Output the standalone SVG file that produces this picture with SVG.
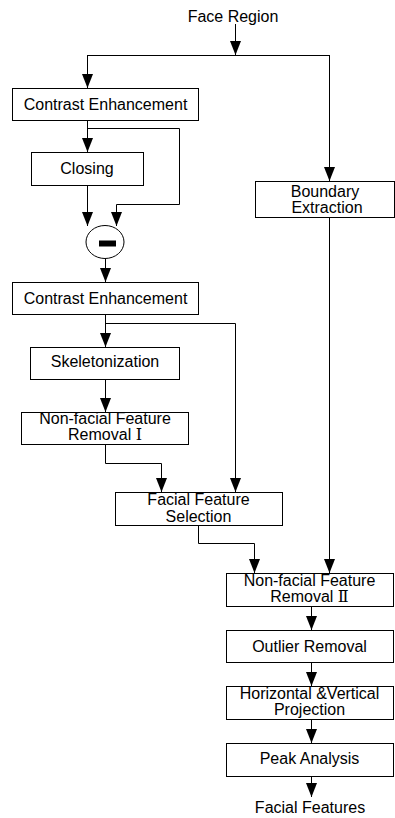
<svg xmlns="http://www.w3.org/2000/svg" width="395" height="818" viewBox="0 0 395 818">
<style>
.box{fill:#fff;stroke:#000;stroke-width:1}
.t{font-family:"Liberation Sans",Arial,sans-serif;font-size:16px;fill:#000;text-anchor:middle}
.r{font-family:"Liberation Serif","DejaVu Serif",serif}
.c{fill:none;stroke:#000;stroke-width:1}
</style>
<defs>
<marker id="ah" viewBox="0 -6 14 12" refX="14" refY="0" markerWidth="14" markerHeight="12" markerUnits="userSpaceOnUse" orient="auto">
<path d="M0,-5.5 L14,0 L0,5.5 z" fill="#000"/>
</marker>
</defs>
<rect width="395" height="818" fill="#fff"/>
<g id="connectors">
<path class="c" d="M235.5,24 V55" marker-end="url(#ah)"/>
<path class="c" d="M87.5,55.5 H329.5"/>
<path class="c" d="M87.5,55 V88" marker-end="url(#ah)"/>
<path class="c" d="M329.5,55 V181" marker-end="url(#ah)"/>
<path class="c" d="M87.5,120 V152" marker-end="url(#ah)"/>
<path class="c" d="M87.5,128.5 H179.5 V204.5 H116.5 V226" marker-end="url(#ah)"/>
<path class="c" d="M87.5,185 V226" marker-end="url(#ah)"/>
<path class="c" d="M105.5,259 V282" marker-end="url(#ah)"/>
<path class="c" d="M105.5,314 V347" marker-end="url(#ah)"/>
<path class="c" d="M105.5,323.5 H235.5 V492" marker-end="url(#ah)"/>
<path class="c" d="M105.5,379 V412" marker-end="url(#ah)"/>
<path class="c" d="M105.5,444 V463.5 H161.5 V492" marker-end="url(#ah)"/>
<path class="c" d="M329.5,217 V573" marker-end="url(#ah)"/>
<path class="c" d="M198.5,525 V543.5 H254.5 V573" marker-end="url(#ah)"/>
<path class="c" d="M311.5,606 V630" marker-end="url(#ah)"/>
<path class="c" d="M311.5,662 V686" marker-end="url(#ah)"/>
<path class="c" d="M311.5,719 V743" marker-end="url(#ah)"/>
<path class="c" d="M311.5,776 V797" marker-end="url(#ah)"/>
</g>
<g id="face-region">
<text class="t" x="233" y="21.5">Face Region</text>
</g>
<g id="contrast1">
<rect class="box" x="12.5" y="88.5" width="186" height="32"/>
<text class="t" x="105.5" y="109.5">Contrast Enhancement</text>
</g>
<g id="closing">
<rect class="box" x="31.5" y="152.5" width="112" height="33"/>
<text class="t" x="87" y="173.5">Closing</text>
</g>
<g id="boundary">
<rect class="box" x="255.5" y="181.5" width="139" height="36"/>
<text class="t" x="325" y="196.5">Boundary</text>
<text class="t" x="327" y="212.5">Extraction</text>
</g>
<g id="minus">
<ellipse cx="105" cy="242" rx="19" ry="16.5" fill="#fff" stroke="#000" stroke-width="1"/>
<rect x="99" y="240.5" width="17" height="6" fill="#000"/>
</g>
<g id="contrast2">
<rect class="box" x="12.5" y="282.5" width="186" height="32"/>
<text class="t" x="105.5" y="303.5">Contrast Enhancement</text>
</g>
<g id="skeleton">
<rect class="box" x="30.5" y="347.5" width="149" height="32"/>
<text class="t" x="105" y="367">Skeletonization</text>
</g>
<g id="nonfacial1">
<rect class="box" x="21.5" y="412.5" width="167" height="32"/>
<text class="t" x="105" y="423.5">Non-facial Feature</text>
<text class="t" x="105" y="440">Removal <tspan class="r">Ⅰ</tspan></text>
</g>
<g id="selection">
<rect class="box" x="115.5" y="492.5" width="167" height="33"/>
<text class="t" x="198.5" y="505">Facial Feature</text>
<text class="t" x="198.5" y="521.5">Selection</text>
</g>
<g id="nonfacial2">
<rect class="box" x="226.5" y="573.5" width="167" height="33"/>
<text class="t" x="309.5" y="585.5">Non-facial Feature</text>
<text class="t" x="309.5" y="601.5">Removal <tspan class="r">Ⅱ</tspan></text>
</g>
<g id="outlier">
<rect class="box" x="226.5" y="630.5" width="167" height="32"/>
<text class="t" x="309.5" y="651.5">Outlier Removal</text>
</g>
<g id="projection">
<rect class="box" x="226.5" y="686.5" width="167" height="33"/>
<text class="t" x="309.5" y="698.5">Horizontal &amp;Vertical</text>
<text class="t" x="309.5" y="714.5">Projection</text>
</g>
<g id="peak">
<rect class="box" x="226.5" y="743.5" width="167" height="33"/>
<text class="t" x="309.5" y="764">Peak Analysis</text>
</g>
<g id="facial-features">
<text class="t" x="310" y="813">Facial Features</text>
</g>
</svg>
